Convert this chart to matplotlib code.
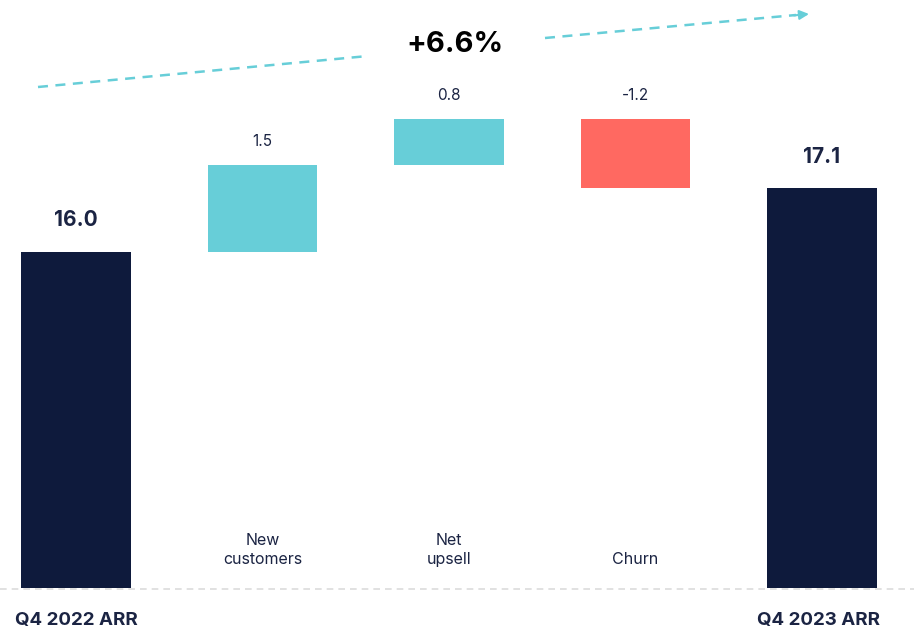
import matplotlib.pyplot as plt
import numpy as np

plt.rcParams["font.family"] = ["Inter", "DejaVu Sans"]

# data
steps = ["Q4 2022 ARR", "New\ncustomers", "Net\nupsell", "Churn", "Q4 2023 ARR"]
start_value = 16.0
changes = [1.5, 0.8, -1.2]
end_value = 17.1
growth_label = "+6.6%"

navy = "#0e1a3c"
teal = "#67ced8"
red = "#ff6961"
text_color = "#1b2443"

W, H = 914, 628
base = 10.15  # truncated y-axis baseline
fig = plt.figure(figsize=(W / 100, H / 100), dpi=100)
ax = fig.add_axes([0, 40 / H, 1, 548 / H])
ax.set_xlim(-0.4075, 4.493)
ax.set_ylim(base, base + 548 / 57.5)
ax.axis("off")

x = np.arange(len(steps))
width = 0.585

# totals
ax.bar(x[0], start_value - base, bottom=base, width=width, color=navy)
ax.bar(x[-1], end_value - base, bottom=base, width=width, color=navy)
ax.text(x[0], start_value + 0.38, f"{start_value:.1f}", ha="center", va="bottom",
        fontsize=15, fontweight="bold", color=text_color)
ax.text(x[-1], end_value + 0.38, f"{end_value:.1f}", ha="center", va="bottom",
        fontsize=15, fontweight="bold", color=text_color)

# floating changes
level = start_value
for i, change in enumerate(changes, start=1):
    color = teal if change > 0 else red
    ax.bar(x[i], change, bottom=level, width=width, color=color)
    top = max(level, level + change)
    ax.text(x[i], top + 0.28, f"{change:.1f}", ha="center", va="bottom",
            fontsize=11, color=text_color)
    level += change

# category labels inside the plot
for i in range(1, 4):
    ax.text(x[i], base + 0.37, steps[i], ha="center", va="bottom",
            fontsize=11.5, color=text_color, linespacing=1.3)

# dashed baseline
fig.add_artist(plt.Line2D([0, 1], [1 - 589 / H] * 2, color="#dcdcdc",
                          linewidth=1.2, linestyle=(0, (4, 3))))

# bottom bold labels
fig.text(15 / W, 1 - 620 / H, steps[0], ha="left", va="center",
         fontsize=13.5, fontweight="bold", color=text_color)
fig.text(880 / W, 1 - 620 / H, steps[-1], ha="right", va="center",
         fontsize=13.5, fontweight="bold", color=text_color)

# growth arrow
fig.add_artist(plt.Line2D([38 / W, 368 / W], [1 - 87 / H, 1 - 56 / H], color=teal,
                          linewidth=1.8, linestyle=(0, (4, 3))))
fig.add_artist(plt.Line2D([545 / W, 796 / W], [1 - 38 / H, 1 - 15 / H], color=teal,
                          linewidth=1.8, linestyle=(0, (4, 3))))
ax.annotate("", xy=(809 / W, 1 - 14 / H), xytext=(794 / W, 1 - 15.4 / H),
            xycoords="figure fraction", textcoords="figure fraction",
            arrowprops=dict(arrowstyle="-|>", color=teal, lw=1.5,
                            mutation_scale=14, shrinkA=0, shrinkB=0))
fig.text(455 / W, 1 - 44 / H, growth_label, ha="center", va="center",
         fontsize=21, fontweight="bold", color="black")

fig.savefig("out.png", dpi=100)
